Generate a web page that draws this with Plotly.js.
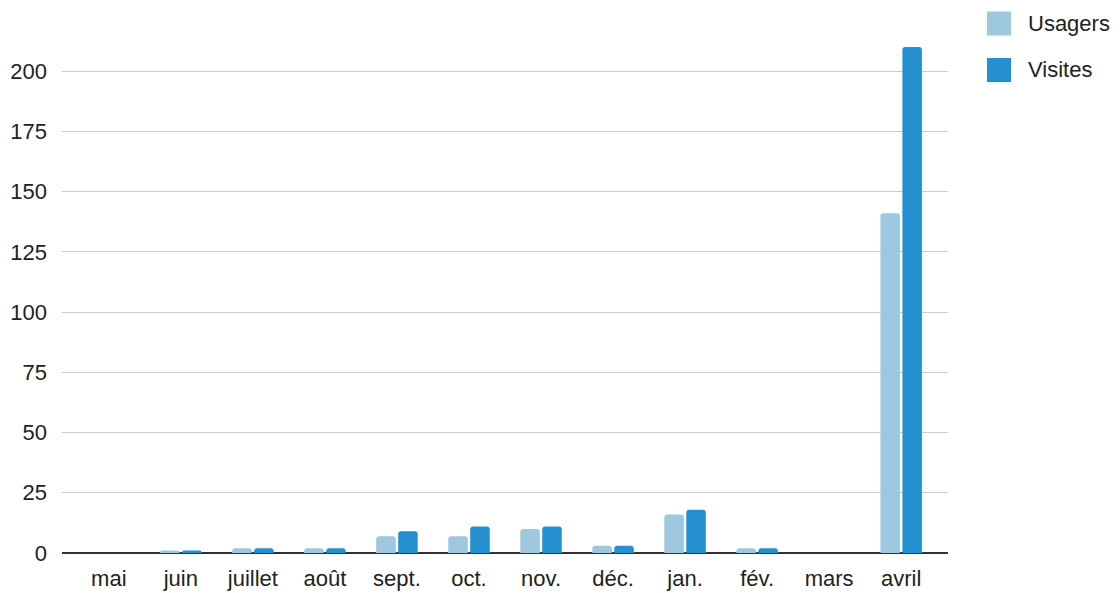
<!DOCTYPE html>
<html>
<head>
<meta charset="utf-8">
<script src="https://cdn.plot.ly/plotly-3.0.1.min.js"></script>
<style>html,body{margin:0;padding:0;background:#fff;}#chart{width:1120px;height:593px;}</style>
</head>
<body>
<div id="chart"></div>
<script>
const months = ["mai","juin","juillet","août","sept.","oct.","nov.","déc.","jan.","fév.","mars","avril"];
const usagers = [0,1,2,2,7,7,10,3,16,2,0,141];
const visites = [0,1,2,2,9,11,11,3,18,2,0,210];
const seriesNames = ["Usagers","Visites"];
const seriesColors = ["#9dc8e0","#2490d0"];

const traces = [
  {type:"bar", name:seriesNames[0], x:months, y:usagers, marker:{color:seriesColors[0], cornerradius:3}, showlegend:false},
  {type:"bar", name:seriesNames[1], x:months, y:visites, marker:{color:seriesColors[1], cornerradius:3}, showlegend:false}
];

const font = "Liberation Sans, Arial, sans-serif";
const shapes = [], annotations = [];
seriesNames.forEach((n,i)=>{
  const cy = 23.5 + i*46.5;
  shapes.push({type:"rect", xref:"paper", yref:"paper", x0:(987-62)/886, x1:(1011-62)/886,
    y0:(553-(cy+12))/518, y1:(553-(cy-12))/518, fillcolor:seriesColors[i], line:{width:0}});
  annotations.push({xref:"paper", yref:"paper", x:(1026-62)/886, y:(553-cy)/518, xanchor:"left", yanchor:"middle",
    text:n, showarrow:false, font:{family:font, size:22, color:"#222"}});
});

const layout = {
  width:1120, height:593,
  margin:{l:62, r:172, t:35, b:40},
  paper_bgcolor:"#fff", plot_bgcolor:"#fff",
  barmode:"group", bargap:0.39, bargroupgap:0.11,
  font:{family:font, size:22, color:"#222"},
  xaxis:{type:"category", range:[-0.65,11.65], showgrid:false, ticks:"", tickfont:{size:22}, ticklabelstandoff:10, fixedrange:true},
  yaxis:{range:[0,215], dtick:25, tick0:0, showgrid:true, gridcolor:"#cccccc", gridwidth:1,
    zeroline:true, zerolinecolor:"#333333", zerolinewidth:1.5, ticks:"", tickfont:{size:22}, ticklabelstandoff:14},
  showlegend:false,
  shapes:shapes, annotations:annotations
};
Plotly.newPlot("chart", traces, layout, {displayModeBar:false, staticPlot:true});
</script>
</body>
</html>
